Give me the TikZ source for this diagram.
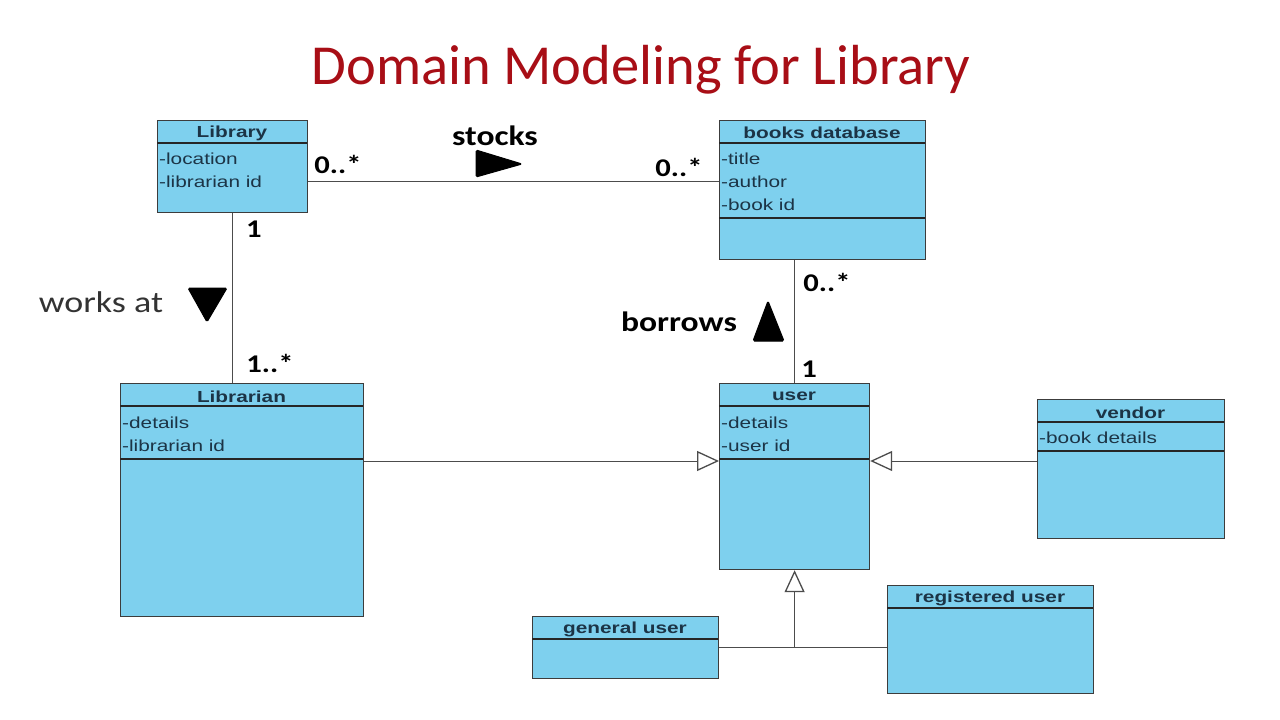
\documentclass[tikz,border=0pt]{standalone}
\usepackage{fontspec}
\setmainfont{Carlito}
\newfontfamily\umlfont[FakeStretch=1.3]{Liberation Sans}
\newfontfamily\lblfont[FakeStretch=1.2]{Carlito}
\usetikzlibrary{arrows.meta}
\definecolor{clsfill}{RGB}{126,208,238}
\definecolor{clsdraw}{RGB}{60,60,60}
\definecolor{clstext}{RGB}{28,52,70}
\definecolor{titlered}{RGB}{168,14,22}
\tikzset{
  cls/.style={draw=clsdraw, fill=clsfill, line width=1.2pt, rectangle, anchor=north west, inner sep=0pt},
  sep/.style={draw=black!85, line width=1.6pt},
  hdr/.style={font=\umlfont\fontsize{16}{18}\selectfont\bfseries, text=clstext, inner sep=0pt},
  attr/.style={font=\umlfont\fontsize{16}{18}\selectfont, text=clstext, inner sep=0pt, anchor=west},
  conn/.style={draw=black!70, line width=1pt},
  gen/.style={conn, -{Triangle[open, length=22pt, width=20pt, fill=white, line width=1.3pt]}},
  mult/.style={font=\lblfont\fontsize{25.5}{27}\selectfont\bfseries, inner sep=0pt},
  assoc/.style={font=\lblfont\fontsize{28}{30}\selectfont\bfseries, inner sep=0pt},
  dirmark/.style={fill=black, draw=black, line width=1pt, rounded corners=1.5pt}
}
\begin{document}
\begin{tikzpicture}[x=1pt, y=-1pt]
\useasboundingbox (0,0) rectangle (1280,720);
\fill[white] (0,0) rectangle (1280,720);

% title
\node[font=\fontsize{56.5}{60}\selectfont, text=titlered, inner sep=0pt] (title) at (641,70) {Domain Modeling for Library};

% classes
\node[cls, minimum width=150pt, minimum height=92pt] (library) at (157,120) {};
\draw[sep] (157,143) -- (307,143);
\node[hdr] (libraryH) at (232,133) {Library};
\node[attr] (libraryA1) at (159,158.5) {-location};
\node[attr] (libraryA2) at (159,181.5) {-librarian id};

\node[cls, minimum width=206pt, minimum height=139pt] (books) at (719,120) {};
\draw[sep] (719,143) -- (925,143);
\draw[sep] (719,218) -- (925,218);
\node[hdr] (booksH) at (822,133) {books database};
\node[attr] (booksA1) at (721,158.5) {-title};
\node[attr] (booksA2) at (721,181.5) {-author};
\node[attr] (booksA3) at (721,204.5) {-book id};

\node[cls, minimum width=243pt, minimum height=233pt] (librarian) at (120,383) {};
\draw[sep] (120,406) -- (363,406);
\draw[sep] (120,459) -- (363,459);
\node[hdr] (librarianH) at (241.5,396.5) {Librarian};
\node[attr] (librarianA1) at (122,422.5) {-details};
\node[attr] (librarianA2) at (122,445.5) {-librarian id};

\node[cls, minimum width=150pt, minimum height=186pt] (user) at (719,383) {};
\draw[sep] (719,406) -- (869,406);
\draw[sep] (719,459) -- (869,459);
\node[hdr] (userH) at (794,396.5) {user};
\node[attr] (userA1) at (721,422.5) {-details};
\node[attr] (userA2) at (721,445.5) {-user id};

\node[cls, minimum width=187pt, minimum height=139pt] (vendor) at (1037,399) {};
\draw[sep] (1037,422) -- (1224,422);
\draw[sep] (1037,451) -- (1224,451);
\node[hdr] (vendorH) at (1130.5,412.5) {vendor};
\node[attr] (vendorA1) at (1039,437.5) {-book details};

\node[cls, minimum width=186pt, minimum height=62pt] (general) at (532,616) {};
\draw[sep] (532,639) -- (718,639);
\node[hdr] (generalH) at (625,629.5) {general user};

\node[cls, minimum width=206pt, minimum height=108pt] (registered) at (887,585) {};
\draw[sep] (887,608) -- (1093,608);
\node[hdr] (registeredH) at (990,598.5) {registered user};

% associations
\draw[conn] ([yshift=-61pt]library.north east) -- ([yshift=-61pt]books.north west);
\draw[conn] (library.south) -- (library.south |- librarian.north);
\draw[conn] (user.north |- books.south) -- (user.north);

% generalizations
\draw[gen] ([yshift=-78pt]librarian.north east) -- ([yshift=-78pt]user.north west);
\draw[gen] ([yshift=-62pt]vendor.north west) -- ([yshift=-78pt]user.north east);
\coordinate (junction) at (user.south |- general.east);
\draw[conn] (general.east) -- (registered.west |- general.east);
\draw[gen] (junction) -- (user.south);

% multiplicities
\node[mult] (m1) at (338,164) {0..*};
\node[mult] (m2) at (679,167) {0..*};
\node[mult] (m3) at (254,229) {1};
\node[mult] (m4) at (270,363) {1..*};
\node[mult] (m5) at (827,282) {0..*};
\node[mult] (m6) at (809,369) {1};

% association names and direction markers
\node[assoc] (stocks) at (495,136) {stocks};
\filldraw[dirmark] (476,150) -- (522,164) -- (476,177) -- cycle;
\node[font=\lblfont\fontsize{30}{32}\selectfont, text=black!80, inner sep=0pt] (worksat) at (101,302) {works at};
\filldraw[dirmark] (188,288) -- (227,288) -- (207,322) -- cycle;
\node[assoc] (borrows) at (679,322) {borrows};
\filldraw[dirmark] (753,341) -- (784,341) -- (768,301) -- cycle;
\end{tikzpicture}
\end{document}
